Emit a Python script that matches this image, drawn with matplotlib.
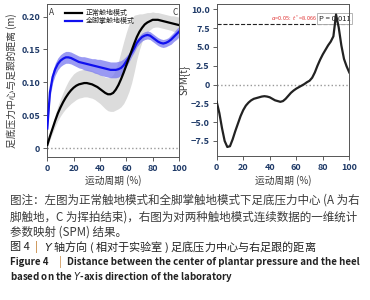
import matplotlib
matplotlib.use("Agg")
import matplotlib.pyplot as plt

plt.rcParams['font.family'] = ['Noto Sans CJK SC', 'DejaVu Sans']
plt.rcParams['axes.unicode_minus'] = False

# 运动周期 (%)
cycle = list(range(0, 101, 2))

# 正常触地模式 mean / sd (m)
normal_mean = [0.005, 0.018, 0.030, 0.042, 0.053, 0.062, 0.070, 0.077, 0.083, 0.088,
               0.092, 0.095, 0.097, 0.098, 0.099, 0.099, 0.098, 0.097, 0.095, 0.093,
               0.090, 0.087, 0.084, 0.082, 0.082, 0.084, 0.089, 0.096, 0.105, 0.115,
               0.126, 0.137, 0.148, 0.159, 0.169, 0.177, 0.183, 0.188, 0.191, 0.193,
               0.195, 0.195, 0.195, 0.194, 0.193, 0.192, 0.191, 0.190, 0.189, 0.188,
               0.187]
normal_sd = [0.003, 0.005, 0.007, 0.009, 0.011, 0.013, 0.015, 0.017, 0.019, 0.020,
             0.021, 0.021, 0.021, 0.021, 0.021, 0.021, 0.021, 0.021, 0.021, 0.022,
             0.022, 0.023, 0.024, 0.025, 0.026, 0.028, 0.031, 0.036, 0.042, 0.047,
             0.050, 0.051, 0.049, 0.043, 0.034, 0.027, 0.021, 0.017, 0.015, 0.013,
             0.012, 0.011, 0.011, 0.011, 0.011, 0.011, 0.011, 0.011, 0.012, 0.012,
             0.012]

# 全脚掌触地模式 mean / sd (m)
flat_mean = [0.030, 0.085, 0.108, 0.120, 0.128, 0.133, 0.136, 0.138, 0.138, 0.137,
             0.135, 0.133, 0.131, 0.130, 0.129, 0.128, 0.127, 0.126, 0.125, 0.124,
             0.123, 0.122, 0.121, 0.120, 0.119, 0.119, 0.119, 0.120, 0.122, 0.126,
             0.132, 0.138, 0.145, 0.152, 0.160, 0.165, 0.169, 0.171, 0.172, 0.171,
             0.168, 0.165, 0.162, 0.160, 0.159, 0.160, 0.162, 0.165, 0.169, 0.173,
             0.177]
flat_sd = [0.003, 0.008, 0.009, 0.009, 0.009, 0.009, 0.009, 0.009, 0.009, 0.009,
           0.009, 0.009, 0.009, 0.009, 0.010, 0.010, 0.010, 0.010, 0.011, 0.011,
           0.012, 0.012, 0.012, 0.012, 0.012, 0.012, 0.012, 0.012, 0.011, 0.010,
           0.008, 0.007, 0.006, 0.006, 0.006, 0.006, 0.006, 0.006, 0.006, 0.006,
           0.006, 0.006, 0.006, 0.006, 0.006, 0.006, 0.006, 0.007, 0.007, 0.008,
           0.008]

# SPM{t}
spm_t = [-2.3, -3.8, -5.8, -7.5, -8.3, -8.2, -7.3, -6.2, -5.2, -4.2,
         -3.4, -2.8, -2.4, -2.1, -1.9, -1.8, -1.7, -1.6, -1.55, -1.6,
         -1.7, -1.9, -2.1, -2.2, -2.3, -2.2, -1.9, -1.5, -1.1, -0.8,
         -0.55, -0.35, -0.15, 0.05, 0.3, 0.5, 0.9, 1.6, 2.5, 3.3,
         4.0, 4.6, 5.2, 5.7, 6.4, 9.3, 7.6, 5.2, 3.4, 2.4,
         1.6]
t_crit = 8.066
p_value = 0.011

left_yticks = [0, 0.05, 0.10, 0.15, 0.20]
left_yticklabels = ['0', '0.05', '0.10', '0.15', '0.20']
right_yticks = [10.0, 7.5, 5.0, 2.5, 0, -2.5, -5.0, -7.5]
right_yticklabels = ['10.0', '7.5', '5.0', '2.5', '0', '\u22122.5', '\u22125.0', '\u22127.5']
xticks = [0, 20, 40, 60, 80, 100]

tick_color = '#1f3a68'
text_color = '#3a3a3a'
W, H = 370, 300

fig = plt.figure(figsize=(3.7, 3.0), dpi=100)
ax1 = fig.add_axes([47.3 / W, 1 - 156.7 / H, (179 - 47.3) / W, (156.7 - 4) / H])
ax2 = fig.add_axes([216.7 / W, 1 - 156 / H, (349.3 - 216.7) / W, (156 - 4) / H])

lo_n = [m - s for m, s in zip(normal_mean, normal_sd)]
hi_n = [m + s for m, s in zip(normal_mean, normal_sd)]
lo_f = [m - s for m, s in zip(flat_mean, flat_sd)]
hi_f = [m + s for m, s in zip(flat_mean, flat_sd)]

ax1.fill_between(cycle, lo_n, hi_n, color='#dcdcdc', lw=0, zorder=1)
ax1.fill_between(cycle, lo_f, hi_f, color='#7878f0', alpha=0.75, lw=0, zorder=2)
ax1.plot(cycle, normal_mean, color='black', lw=1.6, label='正常触地模式', zorder=4)
ax1.plot(cycle, flat_mean, color='#1010ee', lw=1.6, label='全脚掌触地模式', zorder=3)
ax1.axhline(0, color='#999999', ls=':', lw=1.0, zorder=0)
ax1.set_xlim(0, 100)
ax1.set_ylim(-0.0128, 0.219)
ax1.text(3, 0.2055, 'A', fontsize=6, color=text_color, va='center', ha='center')
ax1.text(97, 0.2055, 'C', fontsize=6, color=text_color, va='center', ha='center')
leg = ax1.legend(loc='upper left', bbox_to_anchor=(0.115, 0.985), frameon=False,
                 fontsize=5, handlelength=2.45, handletextpad=0.5, labelspacing=0.0,
                 borderaxespad=0.0)
for t in leg.get_texts():
    t.set_color('#222222')
ax1.set_yticks(left_yticks)
ax1.set_yticklabels(left_yticklabels)
ax1.set_ylabel('足底压力中心与足跟的距离 (m)', fontsize=7, color=text_color, labelpad=3)

ax2.plot(cycle, spm_t, color='#222222', lw=1.6, zorder=3)
ax2.axhline(t_crit, xmin=0, xmax=1, color='#222222', ls='--', lw=0.8, zorder=2)
ax2.axhline(0, color='#999999', ls=':', lw=1.0, zorder=0)
ax2.text(76, t_crit + 0.15, r'$\alpha$=0.05:  $t^*$=%.3f' % t_crit, fontsize=4,
         color='#e03030', ha='right', va='bottom')
ax2.text(89, 8.75, 'P = %.3f' % p_value, fontsize=5.5, color='#222222', ha='center',
         va='center', zorder=2,
         bbox=dict(boxstyle='square,pad=0.2', fc='white', ec='#aaaaaa', lw=0.6))
ax2.set_xlim(0, 100)
ax2.set_ylim(-9.5, 10.7)
ax2.set_yticks(right_yticks)
ax2.set_yticklabels(right_yticklabels)
ax2.set_ylabel('SPM{t}', fontsize=7, color=text_color, labelpad=1)

for ax in (ax1, ax2):
    ax.set_xticks(xticks)
    ax.set_xlabel('运动周期 (%)', fontsize=7, color=text_color, labelpad=2)
    ax.tick_params(axis='both', labelsize=6.5, labelcolor=tick_color, length=3,
                   width=0.6, color='#444444', pad=2)
    for lab in ax.get_xticklabels() + ax.get_yticklabels():
        lab.set_fontweight('bold')
    for sp in ax.spines.values():
        sp.set_color('#555555')
        sp.set_linewidth(0.7)

# caption
cap = 8.3
fig.text(10 / W, 1 - 200 / H, '图注：左图为正常触地模式和全脚掌触地模式下足底压力中心 (A 为右',
         fontsize=cap, color=text_color, va='center')
fig.text(10 / W, 1 - 217 / H, '脚触地，C 为挥拍结束)，右图为对两种触地模式连续数据的一维统计',
         fontsize=cap, color=text_color, va='center')
fig.text(10 / W, 1 - 232 / H, '参数映射 (SPM) 结果。',
         fontsize=cap, color=text_color, va='center')
fig.text(10 / W, 1 - 247 / H, '图 4', fontsize=8, color='#222222', va='center')
fig.text(35 / W, 1 - 247 / H, '|', fontsize=8, color='#c07a2c', va='center')
fig.text(44 / W, 1 - 247 / H, '$Y$ 轴方向 ( 相对于实验室 ) 足底压力中心与右足跟的距离',
         fontsize=8, color='#222222', va='center')
fig.text(10 / W, 1 - 262 / H, 'Figure 4', fontsize=7, fontweight='bold',
         color='#222222', va='center')
fig.text(59 / W, 1 - 262 / H, '|', fontsize=7, color='#c07a2c', va='center')
fig.text(67 / W, 1 - 262 / H, 'Distance between the center of plantar pressure and the heel',
         fontsize=7, fontweight='bold', color='#222222', va='center')
fig.text(10 / W, 1 - 277 / H, 'based on the $\\mathit{Y}$-axis direction of the laboratory',
         fontsize=7, fontweight='bold', color='#222222', va='center')

fig.savefig('out.png', dpi=100)
